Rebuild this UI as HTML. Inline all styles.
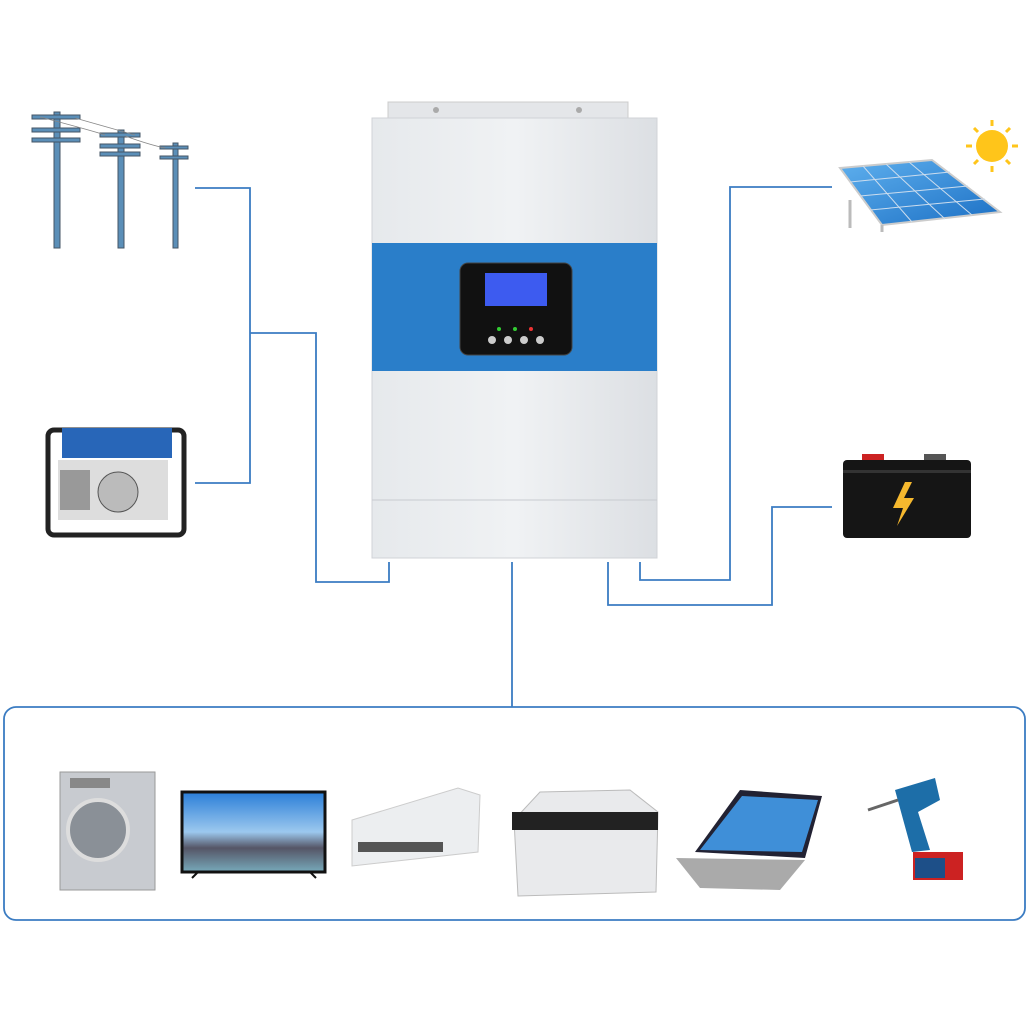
<!DOCTYPE html>
<html><head><meta charset="utf-8"><style>html,body{margin:0;padding:0;background:#fff}svg{display:block}</style></head>
<body>
<svg width="1028" height="1028" viewBox="0 0 1028 1028" xmlns="http://www.w3.org/2000/svg">
<defs>
<linearGradient id="body" x1="0" x2="1"><stop offset="0" stop-color="#e6e9ec"/><stop offset="0.5" stop-color="#f0f2f4"/><stop offset="1" stop-color="#dcdfe3"/></linearGradient>
<linearGradient id="pv" x1="0" y1="0" x2="1" y2="1"><stop offset="0" stop-color="#5fb0ee"/><stop offset="1" stop-color="#1b6fc4"/></linearGradient>
<linearGradient id="sky" x1="0" y1="0" x2="0" y2="1"><stop offset="0" stop-color="#2a7ed8"/><stop offset="0.5" stop-color="#9cc8ee"/><stop offset="0.7" stop-color="#556"/><stop offset="1" stop-color="#7ab"/></linearGradient>
</defs>
<!-- connectors -->
<g stroke="#3b7cc2" stroke-width="1.8" fill="none">
<polyline points="195,188 250,188 250,483 195,483"/>
<polyline points="250,333 316,333 316,582 389,582 389,562"/>
<polyline points="832,187 730,187 730,580 640,580 640,562"/>
<polyline points="832,507 772,507 772,605 608,605 608,562"/>
<line x1="512" y1="562" x2="512" y2="707"/>
<rect x="4" y="707" width="1021" height="213" rx="12"/>
</g>
<!-- inverter -->
<rect x="388" y="102" width="240" height="18" fill="#e4e6e9" stroke="#ccc"/>
<circle cx="436" cy="110" r="3" fill="#aaa"/><circle cx="579" cy="110" r="3" fill="#aaa"/>
<rect x="372" y="118" width="285" height="440" fill="url(#body)" stroke="#d0d3d7"/>
<rect x="372" y="243" width="285" height="128" fill="#2a7ec9"/>
<line x1="372" y1="500" x2="657" y2="500" stroke="#c8cbd0"/>
<rect x="460" y="263" width="112" height="92" rx="8" fill="#111" stroke="#444"/>
<rect x="485" y="273" width="62" height="33" fill="#3d5bf0"/>
<g fill="#ccc"><circle cx="492" cy="340" r="4"/><circle cx="508" cy="340" r="4"/><circle cx="524" cy="340" r="4"/><circle cx="540" cy="340" r="4"/></g>
<circle cx="499" cy="329" r="2" fill="#3c3"/><circle cx="515" cy="329" r="2" fill="#3c3"/><circle cx="531" cy="329" r="2" fill="#e33"/>
<!-- power poles -->
<g fill="#5b8fb8" stroke="#456">
<rect x="54" y="112" width="6" height="136"/><rect x="118" y="130" width="6" height="118"/><rect x="173" y="143" width="5" height="105"/>
<rect x="32" y="115" width="48" height="4"/><rect x="32" y="128" width="48" height="4"/><rect x="32" y="138" width="48" height="4"/>
<rect x="100" y="133" width="40" height="4"/><rect x="100" y="144" width="40" height="4"/><rect x="100" y="152" width="40" height="4"/>
<rect x="160" y="146" width="28" height="3"/><rect x="160" y="156" width="28" height="3"/>
</g>
<g stroke="#888" stroke-width="0.8" fill="none"><path d="M40,117 Q90,130 105,135"/><path d="M75,118 Q110,128 135,135"/><path d="M125,136 Q150,145 165,148"/></g>
<!-- generator -->
<rect x="48" y="430" width="136" height="105" rx="6" fill="none" stroke="#222" stroke-width="5"/>
<rect x="62" y="428" width="110" height="30" fill="#2866b8"/>
<rect x="58" y="460" width="110" height="60" fill="#ddd"/>
<circle cx="118" cy="492" r="20" fill="#bbb" stroke="#555"/>
<rect x="60" y="470" width="30" height="40" fill="#999"/>
<!-- sun & panel -->
<circle cx="992" cy="146" r="16" fill="#ffc51a"/>
<g stroke="#ffc51a" stroke-width="3"><line x1="992" y1="120" x2="992" y2="126"/><line x1="992" y1="166" x2="992" y2="172"/><line x1="966" y1="146" x2="972" y2="146"/><line x1="1012" y1="146" x2="1018" y2="146"/><line x1="974" y1="128" x2="978" y2="132"/><line x1="1006" y1="160" x2="1010" y2="164"/><line x1="1006" y1="132" x2="1010" y2="128"/><line x1="974" y1="164" x2="978" y2="160"/></g>
<polygon points="840,168 932,160 1000,212 882,225" fill="url(#pv)" stroke="#ccc" stroke-width="2"/>
<g stroke="#cde" stroke-width="1"><line x1="863" y1="166" x2="912" y2="222"/><line x1="886" y1="164" x2="945" y2="219"/><line x1="909" y1="162" x2="972" y2="215"/><line x1="850" y1="182" x2="950" y2="172"/><line x1="860" y1="196" x2="968" y2="186"/><line x1="870" y1="210" x2="985" y2="199"/></g>
<line x1="850" y1="200" x2="850" y2="228" stroke="#bbb" stroke-width="3"/><line x1="882" y1="225" x2="882" y2="232" stroke="#bbb" stroke-width="3"/>
<!-- battery -->
<rect x="862" y="454" width="22" height="8" fill="#c22"/><rect x="924" y="454" width="22" height="8" fill="#555"/>
<rect x="843" y="460" width="128" height="78" rx="4" fill="#151515"/>
<rect x="843" y="470" width="128" height="3" fill="#333"/>
<polygon points="905,482 893,508 903,508 897,526 914,498 904,498 912,482" fill="#f5b82e"/>
<!-- appliances -->
<rect x="60" y="772" width="95" height="118" fill="#c8cbd0" stroke="#999"/>
<circle cx="98" cy="830" r="30" fill="#8a9097" stroke="#ddd" stroke-width="4"/>
<rect x="70" y="778" width="40" height="10" fill="#888"/>
<rect x="182" y="792" width="143" height="80" fill="url(#sky)" stroke="#111" stroke-width="3"/>
<line x1="192" y1="878" x2="198" y2="872" stroke="#111" stroke-width="2"/><line x1="316" y1="878" x2="310" y2="872" stroke="#111" stroke-width="2"/>
<polygon points="352,820 458,788 480,795 478,852 352,866" fill="#eceef0" stroke="#ccc"/>
<rect x="358" y="842" width="85" height="10" fill="#555"/>
<polygon points="514,820 540,792 630,790 658,812 656,892 518,896" fill="#e9eaec" stroke="#bbb"/>
<rect x="512" y="812" width="146" height="18" fill="#222"/>
<polygon points="695,852 740,790 822,796 805,858" fill="#223"/>
<polygon points="742,796 818,800 802,852 700,850" fill="#3f8fd8"/>
<polygon points="676,858 805,860 780,890 700,888" fill="#aaa"/>
<polygon points="895,790 935,778 940,800 918,812 930,850 912,852" fill="#1d6ea8"/>
<rect x="913" y="852" width="50" height="28" fill="#c22"/><rect x="915" y="858" width="30" height="20" fill="#1d4f88"/>
<line x1="868" y1="810" x2="898" y2="800" stroke="#666" stroke-width="3"/>
</svg>
</body></html>
